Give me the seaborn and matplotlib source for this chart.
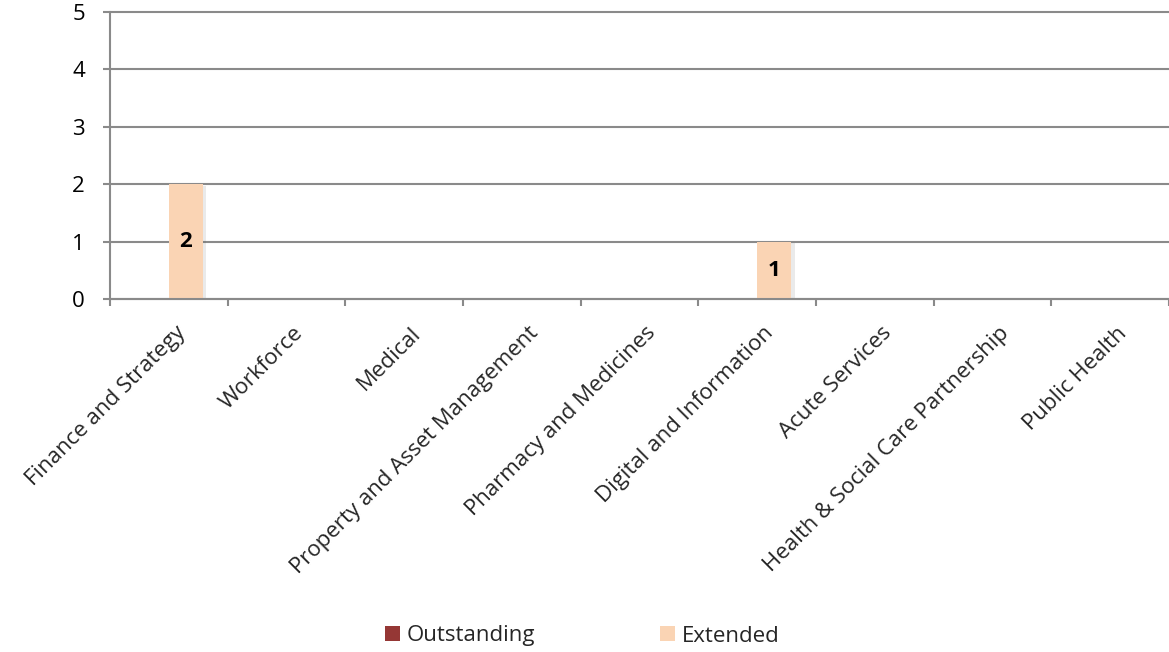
import matplotlib
matplotlib.use("Agg")
import matplotlib.pyplot as plt
import matplotlib.transforms as mtransforms
import matplotlib.patheffects as pe
from matplotlib.patches import Patch
from matplotlib.ticker import FixedLocator
import seaborn as sns
import pandas as pd

categories = ["Finance and Strategy", "Workforce", "Medical",
              "Property and Asset Management", "Pharmacy and Medicines",
              "Digital and Information", "Acute Services",
              "Health & Social Care Partnership", "Public Health"]
series_names = ["Outstanding", "Extended"]
outstanding = [0, 0, 0, 0, 0, 0, 0, 0, 0]
extended = [2, 0, 0, 0, 0, 1, 0, 0, 0]
y_ticks = [0, 1, 2, 3, 4, 5]
colors = {"Outstanding": "#953735", "Extended": "#FAD4B4"}

df = pd.DataFrame({
    "Department": categories * 2,
    "Status": ["Outstanding"] * len(categories) + ["Extended"] * len(categories),
    "Count": outstanding + extended,
})

sns.set_theme(style="white")
plt.rcParams['font.family'] = ['Open Sans', 'DejaVu Sans']

W, H = 1169, 652
fig = plt.figure(figsize=(W / 100, H / 100), dpi=100)
ax = fig.add_axes([110 / W, (H - 299) / H, (W - 110) / W, (299 - 12) / H])

sns.barplot(data=df, x="Department", y="Count", hue="Status",
            hue_order=series_names, order=categories, palette=colors,
            width=0.58, dodge=True, ax=ax, legend=False,
            saturation=1, edgecolor="none", linewidth=0)

for bar in ax.containers[1]:
    bar.set_path_effects([pe.SimplePatchShadow(offset=(2.5, -1), alpha=0.12, shadow_rgbFace="#555555"),
                          pe.Normal()])

ax.set_xlim(-0.5, len(categories) - 0.5)
ax.set_ylim(0, 5)
ax.set_yticks(y_ticks)
ax.set_yticklabels([str(v) for v in y_ticks], fontsize=16)
ax.set_xlabel("")
ax.set_ylabel("")

grid_c = "#8a8a8a"
ax.yaxis.grid(True, color=grid_c, linewidth=1.5)
ax.set_axisbelow(True)
for gl in ax.get_ygridlines():
    gl.set_clip_on(False)

for s in ["top", "right"]:
    ax.spines[s].set_visible(False)
for s in ["left", "bottom"]:
    ax.spines[s].set_color(grid_c)
    ax.spines[s].set_linewidth(1.5)

ax.tick_params(axis="y", which="major", left=True, length=5, width=1.5,
               color=grid_c, pad=13, labelcolor="black")
ax.xaxis.set_minor_locator(FixedLocator([i - 0.5 for i in range(len(categories) + 1)]))
ax.tick_params(axis="x", which="minor", bottom=True, length=5, width=1.5, color=grid_c)
ax.tick_params(axis="x", which="major", bottom=False, length=0, pad=17)

ax.set_xticks(range(len(categories)))
ax.set_xticklabels(categories, fontsize=16, rotation=45, ha="right",
                   va="top", rotation_mode="anchor")
offset = mtransforms.ScaledTranslation(0.06, 0, fig.dpi_scale_trans)
for lbl in ax.get_xticklabels():
    lbl.set_transform(lbl.get_transform() + offset)

ext_labels = [str(v) if v else "" for v in extended]
ax.bar_label(ax.containers[1], labels=ext_labels, label_type="center",
             fontsize=16, fontweight="bold", color="black")

handles = [Patch(facecolor=colors[n], edgecolor="none") for n in series_names]
fig.legend(handles, series_names, loc="center",
           bbox_to_anchor=(582 / W, 1 - 636 / H), ncol=2, frameon=False,
           fontsize=16, handlelength=0.68, handleheight=0.68,
           handletextpad=0.3, columnspacing=5.6)

fig.savefig("out.png", dpi=100)
